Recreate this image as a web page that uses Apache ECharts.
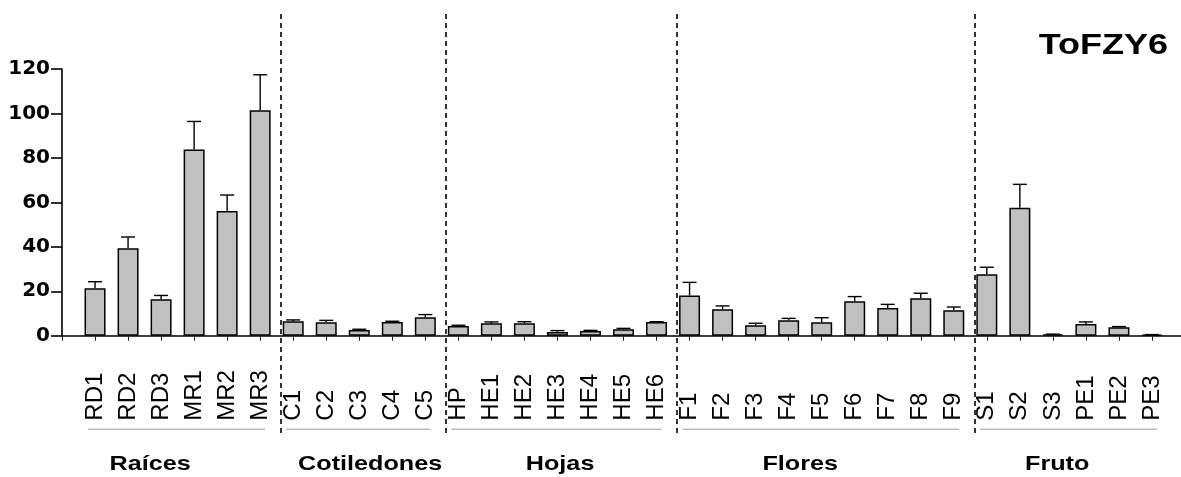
<!DOCTYPE html>
<html><head><meta charset="utf-8">
<script src="https://cdn.jsdelivr.net/npm/echarts@6/dist/echarts.min.js"></script>
<style>html,body{margin:0;padding:0;background:#fff}#c{width:1181px;height:477px}</style>
</head><body><div id="c"></div>
<script>
const categories = ['RD1','RD2','RD3','MR1','MR2','MR3','C1','C2','C3','C4','C5','HP','HE1','HE2','HE3','HE4','HE5','HE6','F1','F2','F3','F4','F5','F6','F7','F8','F9','S1','S2','S3','PE1','PE2','PE3'];
const values = [21.3,39.3,16.4,83.8,56.1,101.4, 6.5,6.0,2.6,6.2,8.3, 4.4,5.6,5.6,1.7,2.1,2.9,6.2, 18.1,11.9,4.7,6.9,6.0,15.5,12.5,16.8,11.4, 27.6,57.6,0.6,5.3,3.8,0.5];
const errorTops = [24.3,44.4,18.1,96.4,63.3,117.4, 7.1,6.9,2.9,6.5,9.5, 4.7,6.2,6.3,2.3,2.4,3.3,6.3, 24.0,13.4,5.6,7.8,8.1,17.6,14.1,19.1,12.9, 30.8,68.1,0.7,6.2,4.1,0.5];
const yTicks = [0,20,40,60,80,100,120];
const groupNames = ['Raíces','Cotiledones','Hojas','Flores','Fruto'];
const groupFirst = ['RD1','C1','HP','F1','S1'];
const groupLast = ['MR3','C5','HE6','F9','PE3'];
const chartTitle = 'ToFZY6';

// layout: group-name anchors, in category-axis units
const groupLabelAt = [2.67, 9.33, 15.08, 22.35, 30.13];

// padded category axis: one empty slot on each side
const axisCats = [' '].concat(categories, ['  ']);
const idx = name => categories.indexOf(name) + 1;

const FONT = '"Liberation Sans", Arial, sans-serif';
const chart = echarts.init(document.getElementById('c'), null, {renderer: 'canvas'});

const gridMain = {left: 62, top: 69, width: 1123, bottom: 141.3, outerBoundsMode: 'none', containLabel: false};
const gridOverlay = {left: 62, top: 12, width: 1123, bottom: 44, outerBoundsMode: 'none', containLabel: false};

const option = {
  animation: false,
  backgroundColor: '#fff',
  grid: [gridMain, gridOverlay],
  xAxis: [{
    type: 'category', data: axisCats, boundaryGap: false, gridIndex: 0,
    axisLine: {lineStyle: {color: '#000', width: 1.6}},
    axisTick: {show: true, interval: 0, length: 5, lineStyle: {color: '#222', width: 1}},
    axisLabel: {interval: 0, rotate: 90, align: 'left', verticalAlign: 'middle', margin: 85,
      fontFamily: FONT, fontSize: 24, color: '#000'},
    splitLine: {show: false}
  }, {
    type: 'value', gridIndex: 1, min: 0, max: axisCats.length - 1, show: false
  }],
  yAxis: [{
    type: 'value', gridIndex: 0, min: yTicks[0], max: yTicks[yTicks.length - 1], interval: yTicks[1] - yTicks[0],
    axisLine: {show: true, lineStyle: {color: '#000', width: 1.6}},
    axisTick: {show: true, length: 11, lineStyle: {color: '#000', width: 1.6}},
    axisLabel: {margin: 12, fontFamily: '"DejaVu Sans", sans-serif', fontWeight: 'bold', fontSize: 20, color: '#000'},
    splitLine: {show: false}
  }, {
    type: 'value', gridIndex: 1, min: 0, max: 1, show: false
  }],
  series: [{
    type: 'bar', xAxisIndex: 0, yAxisIndex: 0, barWidth: 21,
    data: categories.map((c, i) => [i + 1, values[i]]),
    itemStyle: {color: '#c0c0c0', borderColor: '#000', borderWidth: 1.5},
    silent: true, z: 2
  }, {
    type: 'custom', xAxisIndex: 0, yAxisIndex: 0, z: 3, silent: true,
    data: categories.map((c, i) => [i + 1, values[i], errorTops[i]]),
    encode: {x: 0, y: [1, 2]},
    renderItem: function (params, api) {
      const x = api.value(0);
      const b = api.coord([x, api.value(1)]);
      const t = api.coord([x, api.value(2)]);
      const hw = 7;
      return {type: 'group', children: [
        {type: 'line', shape: {x1: b[0], y1: b[1], x2: t[0], y2: t[1]}, style: {stroke: '#000', lineWidth: 1.4}},
        {type: 'line', shape: {x1: t[0] - hw, y1: t[1], x2: t[0] + hw, y2: t[1]}, style: {stroke: '#000', lineWidth: 1.4}}
      ]};
    }
  }, {
    type: 'line', xAxisIndex: 1, yAxisIndex: 1, data: [], silent: true,
    markLine: {
      silent: true, symbol: ['none', 'none'], label: {show: false},
      lineStyle: {color: '#111', type: [5, 4], width: 1.7},
      data: groupLast.slice(0, -1).map(n => ({xAxis: idx(n) + 0.62}))
    }
  }]
};
chart.setOption(option);

// group underlines, group names and title, positioned from the axes
const axisY = chart.convertToPixel({yAxisIndex: 0}, 0);
const underlineY = axisY + 93.5;
const groupLabelY = axisY + 128.5;
const graphics = [];
groupNames.forEach((g, k) => {
  const x1 = chart.convertToPixel({xAxisIndex: 0}, idx(groupFirst[k]));
  const x2 = chart.convertToPixel({xAxisIndex: 0}, idx(groupLast[k]));
  const lx = chart.convertToPixel({xAxisIndex: 1}, groupLabelAt[k]);
  graphics.push({type: 'line', shape: {x1: x1 - 7, y1: underlineY, x2: x2 + 5, y2: underlineY},
    style: {stroke: '#999', lineWidth: 1}, silent: true});
  graphics.push({type: 'text', x: lx, y: groupLabelY, scaleX: 1.2,
    style: {text: g, fontFamily: FONT, fontWeight: 'bold', fontSize: 21, fill: '#000', align: 'center', verticalAlign: 'middle'},
    silent: true});
});
graphics.push({type: 'text', x: 1168, y: 46, scaleX: 1.2,
  style: {text: chartTitle, fontFamily: FONT, fontWeight: 'bold', fontSize: 30, fill: '#000', align: 'right', verticalAlign: 'middle'},
  silent: true});
chart.setOption({graphic: graphics});
</script>
</body></html>
